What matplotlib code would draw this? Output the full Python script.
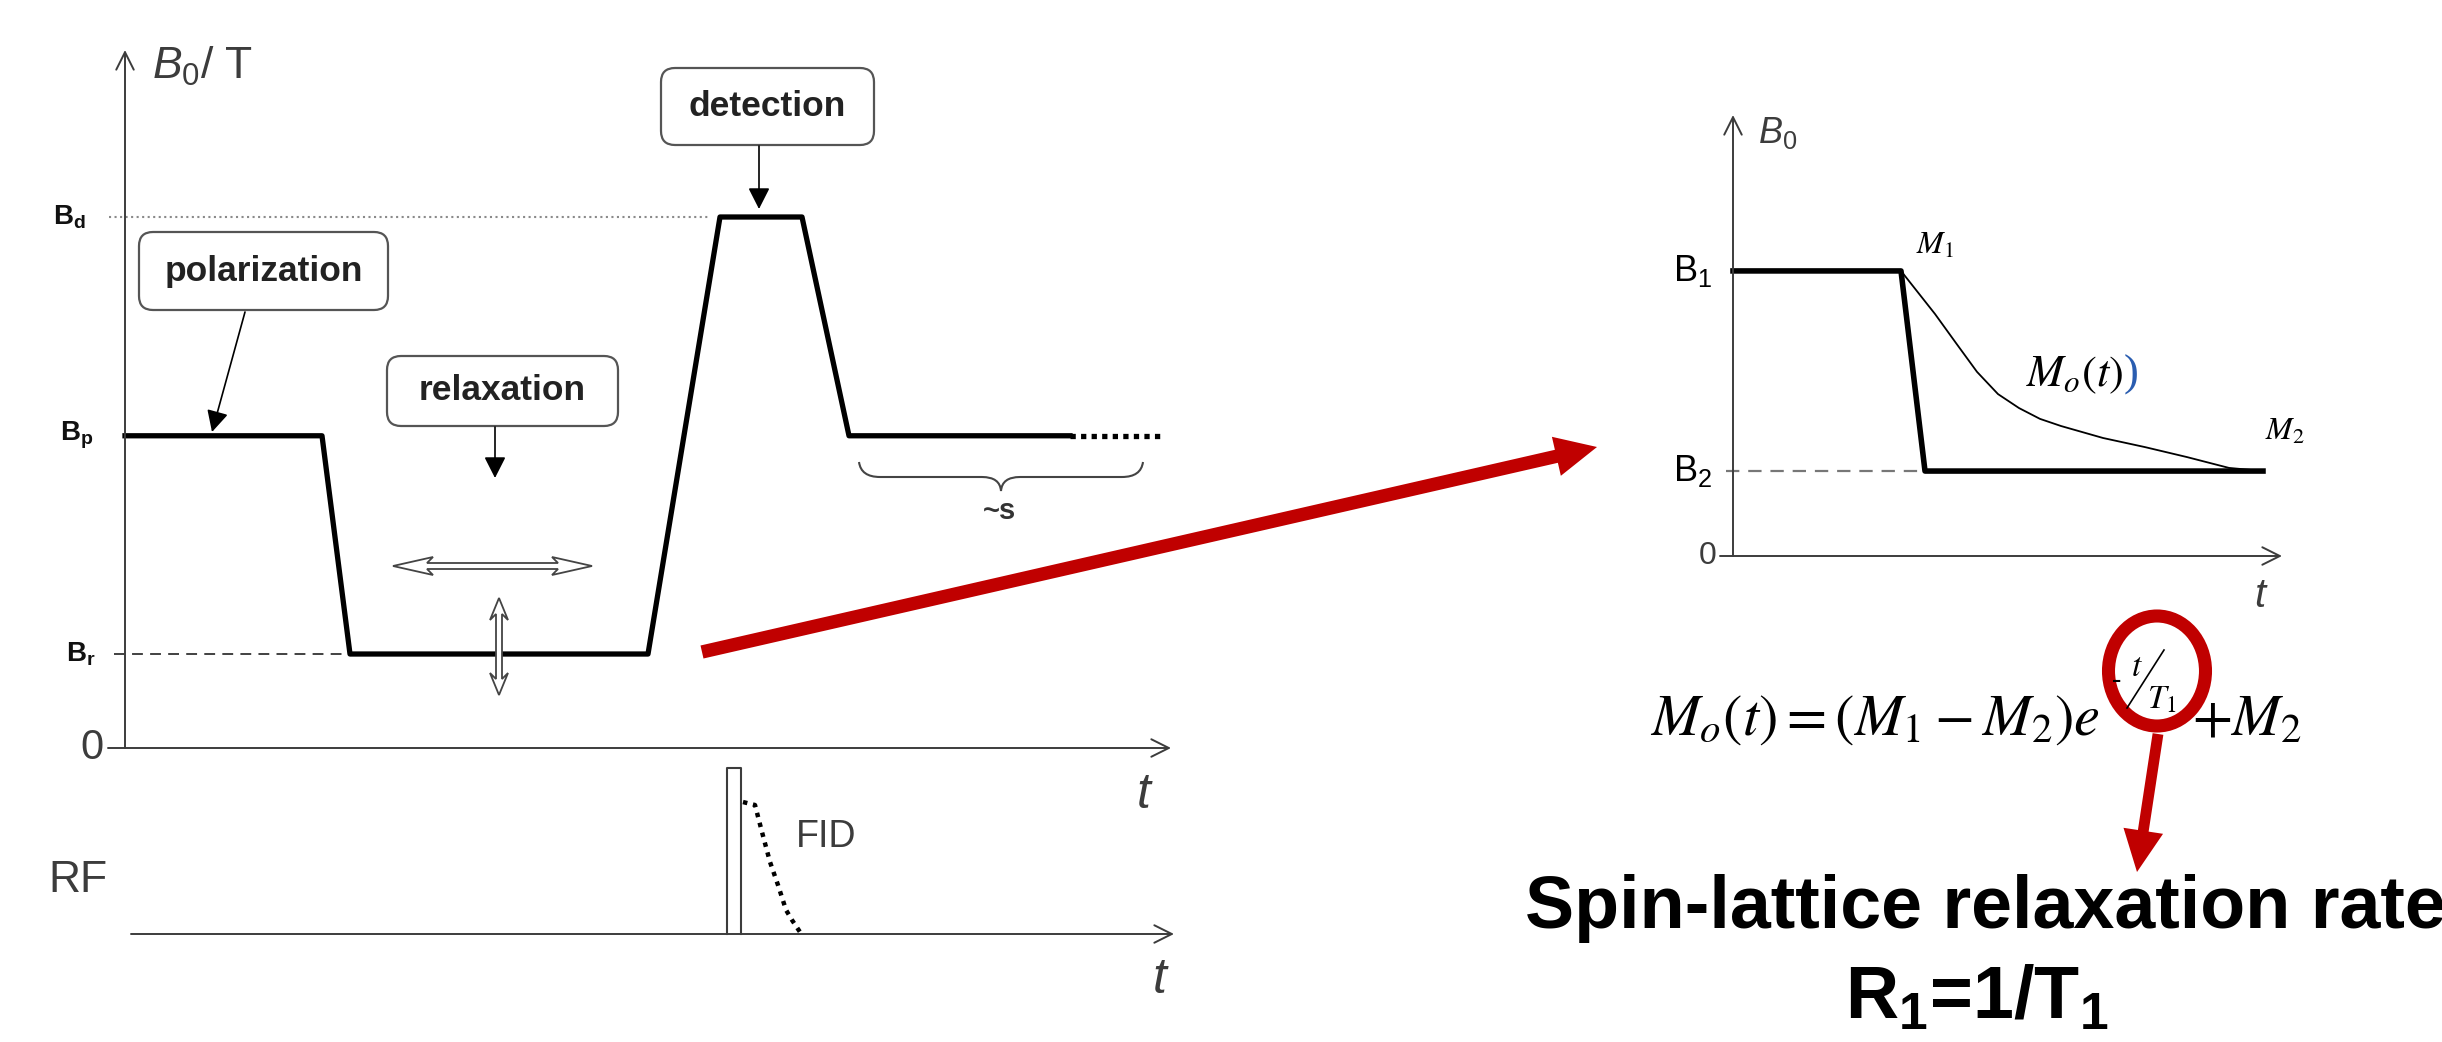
import matplotlib.pyplot as plt
from matplotlib.patches import FancyBboxPatch, FancyArrowPatch, Ellipse, Polygon, PathPatch
from matplotlib.path import Path

plt.rcParams['font.family'] = ['Liberation Sans', 'DejaVu Sans']
plt.rcParams['mathtext.fontset'] = 'custom'
plt.rcParams['mathtext.rm'] = 'Liberation Sans'
plt.rcParams['mathtext.it'] = 'Liberation Sans:italic'
plt.rcParams['mathtext.bf'] = 'Liberation Sans:bold'

W, H = 2442, 1042
RED = '#c00000'
AXC = '#3c3c3c'

# Left: field cycling sequence (time in a.u., field relative to B_d)
cycle_t = [0.0, 1.97, 2.25, 5.23, 5.95, 6.77, 7.24, 9.45]
cycle_b = [0.588, 0.588, 0.177, 0.177, 1.0, 1.0, 0.588, 0.588]
tail_t = [9.45, 10.35]
level_labels = [r'B$_\mathbf{d}$', r'B$_\mathbf{p}$', r'B$_\mathbf{r}$']
level_values = [1.0, 0.588, 0.177]

# RF channel: pulse and free induction decay
pulse_t = [6.02, 6.16]
pulse_h = 1.0
fid_t = [6.18, 6.30, 6.37, 6.45, 6.53, 6.61, 6.67, 6.75]
fid_a = [0.795, 0.777, 0.614, 0.434, 0.295, 0.145, 0.084, 0.012]

# Right: single field switch B1 -> B2 and magnetisation decay
step_t = [0.0, 1.68, 1.92, 5.30]
step_b = [1.0, 1.0, 0.298, 0.298]
mo_t = [1.68, 2.02, 2.23, 2.44, 2.65, 2.86, 3.07, 3.28, 3.70, 4.12, 4.54, 4.96, 5.30]
mo_b = [1.0, 0.849, 0.747, 0.646, 0.568, 0.519, 0.481, 0.456, 0.414, 0.382, 0.347, 0.309, 0.298]

fig = plt.figure(figsize=(W / 100, H / 100), dpi=100)


def add_px_axes(x0, y0, x1, y1):
    ax = fig.add_axes([x0 / W, 1 - y1 / H, (x1 - x0) / W, (y1 - y0) / H])
    ax.axis('off')
    return ax


def axis_arrow(ax, start, end):
    ax.annotate('', xy=end, xytext=start, annotation_clip=False,
                arrowprops=dict(arrowstyle='->,head_length=0.7,head_width=0.35',
                                mutation_scale=18, lw=1.4, color=AXC,
                                shrinkA=0, shrinkB=0))


# ---- left B0 panel
ax1 = add_px_axes(125, 50, 1171, 748)
ax1.set_xlim(0, 10.46)
ax1.set_ylim(0, 1.3145)
axis_arrow(ax1, (0, 0), (0, 1.3145))
axis_arrow(ax1, (-0.17, 0), (10.46, 0))
ax1.plot([-0.16, 5.85], [level_values[0]] * 2, color='#8a8a8a', lw=1.5, ls=':', clip_on=False)
ax1.plot([-0.11, cycle_t[2]], [level_values[2]] * 2, color='#333333', lw=1.3,
         ls=(0, (6, 4)), clip_on=False)
ax1.plot(cycle_t, cycle_b, color='black', lw=3.8, clip_on=False)
ax1.plot(tail_t, [cycle_b[-1]] * 2, color='black', lw=3.8, ls=(0, (1, 1)), clip_on=False)
for lab, val, xr in zip(level_labels, level_values, [-0.39, -0.32, -0.29]):
    ax1.text(xr, val, lab, ha='right', va='center', fontsize=20, fontweight='bold', color='#111111')
ax1.text(-0.21, 0, '0', ha='right', va='center', fontsize=30, color=AXC)
ax1.text(0.27, 1.284, r'$B_0$/ T', ha='left', va='center', fontsize=32, color=AXC)
ax1.text(10.2, -0.089, r'$t$', ha='center', va='center', fontsize=36, color=AXC)

# ---- left RF panel
ax2 = add_px_axes(125, 768, 1174, 934)
ax2.set_xlim(0, 10.49)
ax2.set_ylim(0, 1)
axis_arrow(ax2, (0.06, 0), (10.49, 0))
ax2.plot([pulse_t[0], pulse_t[0], pulse_t[1], pulse_t[1]], [0, pulse_h, pulse_h, 0],
         color=AXC, lw=1.5, clip_on=False)
ax2.plot(fid_t, fid_a, color='black', lw=3.2, ls=(0, (1, 1.3)), clip_on=False)
ax2.text(-0.47, 0.32, 'RF', ha='center', va='center', fontsize=32, color=AXC)
ax2.text(7.01, 0.584, 'FID', ha='center', va='center', fontsize=27, color=AXC)
ax2.text(10.36, -0.277, r'$t$', ha='center', va='center', fontsize=36, color=AXC)

# ---- right panel
ax3 = add_px_axes(1733, 115, 2282, 556)
ax3.set_xlim(0, 5.49)
ax3.set_ylim(0, 1.547)
axis_arrow(ax3, (0, 0), (0, 1.547))
axis_arrow(ax3, (-0.13, 0), (5.49, 0))
ax3.plot([-0.07, step_t[2]], [step_b[2]] * 2, color='#777777', lw=1.6, ls=(0, (6, 4)), clip_on=False)
ax3.plot(step_t, step_b, color='black', lw=4, clip_on=False)
ax3.plot(mo_t, mo_b, color='black', lw=1.3, clip_on=False)
ax3.text(-0.21, step_b[0], r'B$_1$', ha='right', va='center', fontsize=26)
ax3.text(-0.21, step_b[-1], r'B$_2$', ha='right', va='center', fontsize=26)
ax3.text(-0.17, 0, '0', ha='right', va='center', fontsize=23, color=AXC)
ax3.text(0.25, 1.484, r'$B_0$', ha='left', va='center', fontsize=26, color=AXC)
ax3.text(5.28, -0.14, r'$t$', ha='center', va='center', fontsize=29, color=AXC)
ax3.text(2.02, 1.088, r'$M_1$', ha='center', va='center', fontsize=23, math_fontfamily='stix')
ax3.text(5.52, 0.435, r'$M_2$', ha='center', va='center', fontsize=23, math_fontfamily='stix')
ax3.text(2.93, 0.635, r'$M_o(t)$', ha='left', va='center', fontsize=32, math_fontfamily='stix')
ax3.text(3.91, 0.635, ')', ha='left', va='center', fontsize=32, color='#2a5db0',
         family='Liberation Serif')

# ---- overlay in pixel units for annotations
ax = fig.add_axes([0, 0, 1, 1])
ax.set_xlim(0, W)
ax.set_ylim(H, 0)
ax.axis('off')

boxes = [('polarization', 139, 232, 249, 78),
         ('relaxation', 387, 356, 231, 70),
         ('detection', 661, 68, 213, 77)]
for label, x, y, w, h in boxes:
    ax.add_patch(FancyBboxPatch((x, y), w, h, boxstyle='round,pad=0,rounding_size=14',
                                fc='white', ec='#555555', lw=1.6))
    ax.text(x + w / 2, y + h / 2, label, ha='center', va='center', fontsize=25.5,
            fontweight='bold', color='#222222')

pointers = [((245, 312), (212, 432)), ((495, 427), (495, 478)), ((759, 146), (759, 209))]
for start, end in pointers:
    ax.annotate('', xy=end, xytext=start,
                arrowprops=dict(arrowstyle='-|>,head_length=0.65,head_width=0.33',
                                mutation_scale=20, lw=1.2, color='black',
                                shrinkA=0, shrinkB=0))


# hollow double arrows in the relaxation window
def hollow_arrow(x0, x1, c, hl, hw, sw, vertical=False):
    pts = [(x0, c), (x0 + hl, c - hw), (x0 + hl - 6, c - sw), (x1 - hl + 6, c - sw),
           (x1 - hl, c - hw), (x1, c), (x1 - hl, c + hw), (x1 - hl + 6, c + sw),
           (x0 + hl - 6, c + sw), (x0 + hl, c + hw)]
    if vertical:
        pts = [(b, a) for a, b in pts]
    ax.add_patch(Polygon(pts, closed=True, fc='white', ec='#444444', lw=1.3))


hollow_arrow(393, 592, 566, 40, 9, 3)
hollow_arrow(598, 695, 499, 22, 9, 3, vertical=True)

# curly brace with "~s"
brace = Path([(859, 462), (861, 477), (880, 477), (982, 477), (1000, 477), (1001, 491),
              (1002, 477), (1020, 477), (1122, 477), (1141, 477), (1143, 462)],
             [Path.MOVETO, Path.CURVE3, Path.CURVE3, Path.LINETO, Path.CURVE3, Path.CURVE3,
              Path.CURVE3, Path.CURVE3, Path.LINETO, Path.CURVE3, Path.CURVE3])
ax.add_patch(PathPatch(brace, fc='none', ec='#444444', lw=1.5))
ax.text(1000, 511, '~s', ha='center', va='center', fontsize=21, fontweight='bold', color='#333333')

# red arrow linking the panels
ax.add_patch(FancyArrowPatch((702, 652), (1597, 447),
                             arrowstyle='simple,head_length=0.5,head_width=0.48,tail_width=0.16',
                             mutation_scale=60, color=RED, lw=0, shrinkA=0, shrinkB=0))

# formula
ax.text(2100, 735, r'$M_o(t) = (M_1 - M_2)e$', ha='right', va='baseline', fontsize=42,
        math_fontfamily='stix')
ax.text(2117, 680, '-', ha='center', va='center', fontsize=20, family='Liberation Serif')
ax.text(2137, 668, r'$t$', ha='center', va='center', fontsize=24, math_fontfamily='stix')
ax.plot([2127, 2164], [708, 650], color='black', lw=1.2)
ax.text(2162, 700, r'$T_1$', ha='center', va='center', fontsize=24, math_fontfamily='stix')
ax.text(2192, 735, r'$+M_2$', ha='left', va='baseline', fontsize=42, math_fontfamily='stix')

# circle on the exponent and arrow to the conclusion
ax.add_patch(Ellipse((2157, 671), 97, 110, fill=False, ec=RED, lw=9.4))
ax.add_patch(FancyArrowPatch((2158, 734), (2137, 872),
                             arrowstyle='simple,head_length=0.5,head_width=0.48,tail_width=0.13',
                             mutation_scale=60, color=RED, lw=0, shrinkA=0, shrinkB=0))

ax.text(1985, 928, 'Spin-lattice relaxation rate', ha='center', va='baseline', fontsize=53,
        fontweight='bold', color='black')
ax.text(1977, 1018, r'R$_\mathbf{1}$=1/T$_\mathbf{1}$', ha='center', va='baseline', fontsize=53,
        fontweight='bold', color='black')

fig.savefig('out.png', dpi=100)
